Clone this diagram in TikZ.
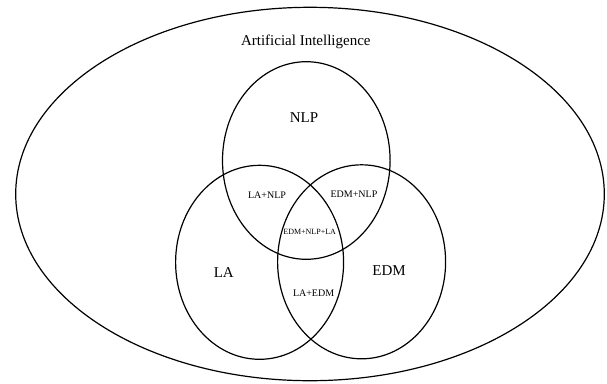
\documentclass[tikz,border=0pt]{standalone}
\usepackage{fontspec}
\setmainfont{Liberation Serif}
\begin{document}
\begin{tikzpicture}[x=1pt,y=-1pt,line width=1.2pt,
    biglabel/.style={font=\fontsize{15}{18}\selectfont},
    pairlabel/.style={font=\fontsize{10}{12}\selectfont},
    triplelabel/.style={font=\fontsize{8}{10}\selectfont}]
    \useasboundingbox (0,0) rectangle (607,383);
    % the sets
    \draw (310,194) ellipse [x radius=294.3pt, y radius=186.7pt];
    \draw (306.3,160.5) ellipse [x radius=83.8pt, y radius=98.8pt];
    \draw (259.6,262.3) ellipse [x radius=84pt, y radius=97pt];
    \draw (361.6,261.8) ellipse [x radius=84pt, y radius=97pt];
    % the labels
    \node[biglabel] (ai) at (305.8,41.7) {Artificial Intelligence};
    \node[biglabel] (nlp) at (304,118) {NLP};
    \node[biglabel] (la) at (223.8,272.7) {LA};
    \node[biglabel] (edm) at (389,270.7) {EDM};
    \node[pairlabel] (lanlp) at (267,195) {LA+NLP};
    \node[pairlabel] (edmnlp) at (354,194) {EDM+NLP};
    \node[pairlabel] (laedm) at (313.6,293.3) {LA+EDM};
    \node[triplelabel] (all) at (309.7,232) {EDM+NLP+LA};
\end{tikzpicture}
\end{document}
